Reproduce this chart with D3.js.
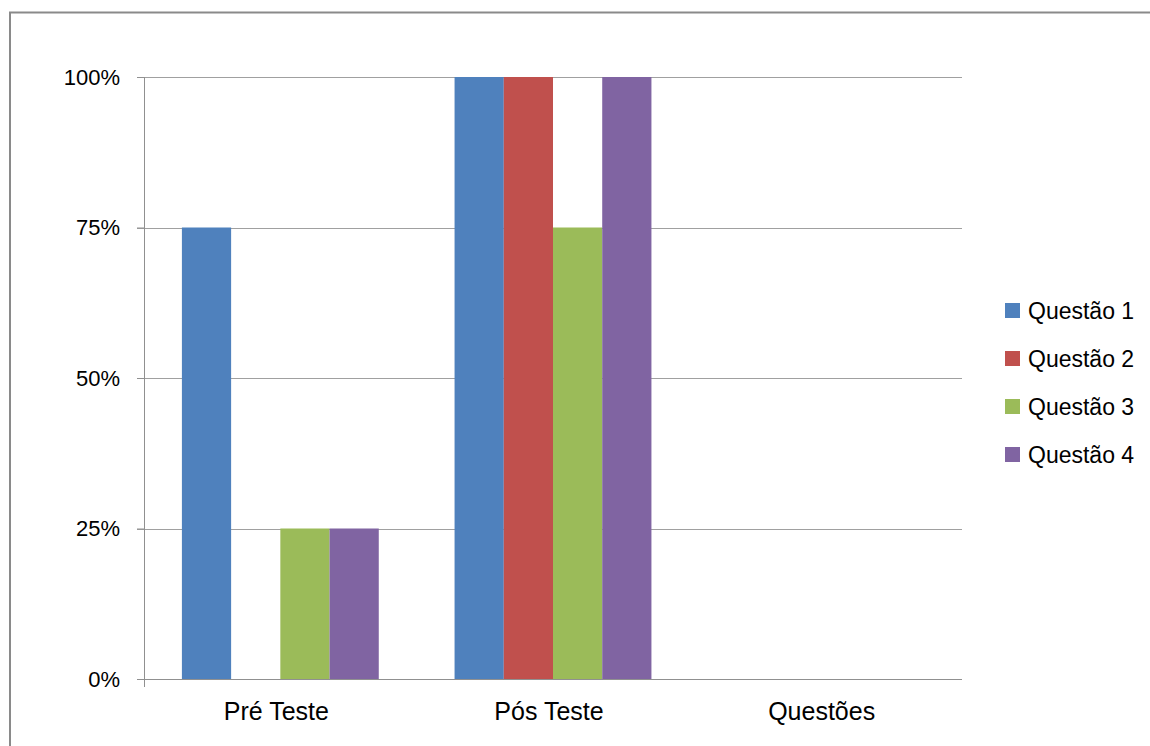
<!DOCTYPE html>
<html>
<head>
<meta charset="utf-8">
<script src="https://cdn.jsdelivr.net/npm/d3@7"></script>
<style>
  body { margin: 0; background: #fff; }
  text { font-family: "Liberation Sans", Arial, sans-serif; fill: #000; }
</style>
</head>
<body>
<div id="canvas"></div>
<script>
// categories on x, one bar per question
const categories = ["Pré Teste", "Pós Teste", "Questões"];
const series = ["Questão 1", "Questão 2", "Questão 3", "Questão 4"];
const q1 = [0.75, 1.00, null];
const q2 = [0.00, 1.00, null];
const q3 = [0.25, 0.75, null];
const q4 = [0.25, 1.00, null];
const yTicks = [0, 0.25, 0.5, 0.75, 1];
const colors = ["#4F81BD", "#C0504D", "#9BBB59", "#8064A2"];

const values = [q1, q2, q3, q4];

const width = 1150;
const height = 746;
const marginTop = 77;
const marginRight = 188;
const marginBottom = 67;
const marginLeft = 144;

const svg = d3.select("#canvas")
    .append("svg")
    .attr("width", width)
    .attr("height", height)
    .attr("viewBox", [0, 0, width, height]);

// frame round the chart (right and bottom edges run off the picture)
svg.append("rect")
    .attr("x", 10)
    .attr("y", 12.5)
    .attr("width", width + 20)
    .attr("height", height + 20)
    .attr("fill", "none")
    .attr("stroke", "#8a8a8a")
    .attr("stroke-width", 2);

// scales
const x0 = d3.scaleBand()
    .domain(categories)
    .range([marginLeft, width - marginRight])
    .padding(0);

const x1 = d3.scaleBand()
    .domain(series)
    .range([0, x0.bandwidth()])
    .paddingInner(0)
    .paddingOuter(0.77);

const y = d3.scaleLinear()
    .domain([0, 1])
    .range([height - marginBottom, marginTop]);

const color = d3.scaleOrdinal()
    .domain(series)
    .range(colors);

// gridlines
svg.append("g")
    .selectAll("line")
    .data(yTicks.filter(d => d > 0))
    .join("line")
        .attr("x1", marginLeft - 7)
        .attr("x2", width - marginRight)
        .attr("y1", d => Math.round(y(d)) + 0.5)
        .attr("y2", d => Math.round(y(d)) + 0.5)
        .attr("stroke", "#a0a0a0")
        .attr("stroke-width", 1);

// bars
const rows = [];
categories.forEach((c, i) => {
    series.forEach((s, j) => {
        if (values[j][i] != null && values[j][i] > 0) rows.push({cat: c, s: s, v: values[j][i]});
    });
});

svg.append("g")
    .selectAll("rect")
    .data(rows)
    .join("rect")
        .attr("x", d => x0(d.cat) + x1(d.s))
        .attr("y", d => y(d.v))
        .attr("width", x1.bandwidth())
        .attr("height", d => y(0) - y(d.v))
        .attr("fill", d => color(d.s));

// y axis
svg.append("g")
    .attr("transform", `translate(${marginLeft},0)`)
    .call(d3.axisLeft(y).tickValues(yTicks).tickFormat(d3.format(".0%")).tickSize(7).tickSizeOuter(0))
    .call(g => g.select(".domain").remove())
    .call(g => g.selectAll(".tick line").attr("stroke", "#909090"))
    .call(g => g.selectAll(".tick text")
        .attr("x", -24)
        .attr("font-size", 22)
        .attr("font-family", "Liberation Sans, Arial, sans-serif")
        .attr("fill", "#000"));

svg.append("line")
    .attr("x1", marginLeft + 0.5)
    .attr("x2", marginLeft + 0.5)
    .attr("y1", y(1))
    .attr("y2", y(0) + 8)
    .attr("stroke", "#909090");

// x axis baseline
svg.append("line")
    .attr("x1", marginLeft - 7)
    .attr("x2", width - marginRight)
    .attr("y1", Math.round(y(0)) + 0.5)
    .attr("y2", Math.round(y(0)) + 0.5)
    .attr("stroke", "#909090");

// category labels
svg.append("g")
    .selectAll("text")
    .data(categories)
    .join("text")
        .attr("x", d => x0(d) + x0.bandwidth() / 2 - 4)
        .attr("y", y(0) + 41)
        .attr("text-anchor", "middle")
        .attr("font-size", 25)
        .text(d => d);

// legend
const legend = svg.append("g")
    .attr("transform", "translate(1005,303)");

legend.selectAll("rect")
    .data(series)
    .join("rect")
        .attr("x", 0)
        .attr("y", (d, i) => i * 48)
        .attr("width", 15)
        .attr("height", 15)
        .attr("fill", d => color(d));

legend.selectAll("text")
    .data(series)
    .join("text")
        .attr("x", 23)
        .attr("y", (d, i) => i * 48 + 8)
        .attr("dy", "0.35em")
        .attr("font-size", 23)
        .text(d => d);
</script>
</body>
</html>
